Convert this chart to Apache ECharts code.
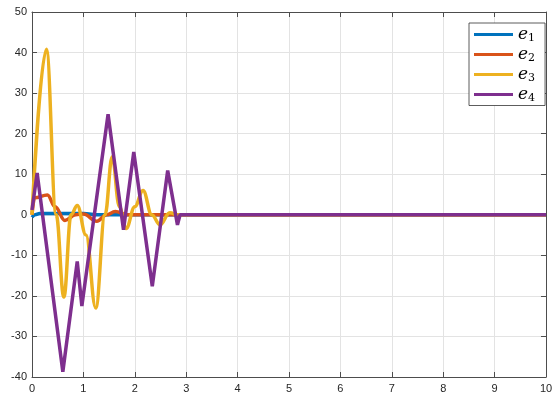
<!DOCTYPE html>
<html>
<head>
<meta charset="utf-8">
<script src="https://cdn.jsdelivr.net/npm/echarts@6/dist/echarts.min.js"></script>
<style>
  html, body { margin: 0; padding: 0; background: #fff; }
  #chart { width: 552px; height: 397px; }
</style>
</head>
<body>
<div id="chart"></div>
<script>
// e1 .. e4 (t, value)
var e1T = [0, 0.06, 0.15, 1.0, 1.3, 10];
var e1V = [-0.6, 0, 0.3, 0.3, 0, 0];

var e2T = [0, 0.05, 0.3, 0.45, 0.64, 0.85, 1.0, 1.26, 1.45, 1.62, 1.85, 2.1, 10];
var e2V = [0, 4.2, 4.9, 2, -1.4, 0, 0.2, -1.6, 0, 0.8, 0, 0, 0];

var e3T = [0, 0.28, 0.47, 0.62, 0.76, 0.88, 1.05, 1.24, 1.42, 1.56, 1.7, 1.83, 2.0, 2.16, 2.33, 2.49, 2.68, 2.85, 3, 10];
var e3V = [0, 40.8, 0, -20.3, 0, 2.3, -5, -23, 0, 14.3, 2, -3.4, 2, 6, 0, -2.5, 0.5, 0, 0, 0];

var e4T = [0, 0.1, 0.6, 0.88, 0.97, 1.48, 1.78, 1.98, 2.34, 2.64, 2.83, 2.88, 10];
var e4V = [1.2, 10.3, -38.7, -11.5, -22.5, 24.8, -3.7, 15.5, -17.6, 10.9, -2.5, 0, 0];

var names = ['e1', 'e2', 'e3', 'e4'];
var colors = ['#0072BD', '#D95319', '#EDB120', '#7E2F8E'];

function pairs(t, v) {
  var out = [];
  for (var i = 0; i < t.length; i++) out.push([t[i], v[i]]);
  return out;
}

var chart = echarts.init(document.getElementById('chart'));

var axisCol = '#4d4d4d';
var lbl = { color: '#262626', fontSize: 11, fontFamily: 'Liberation Sans, Arial, sans-serif' };

function mkSeries(name, t, v, smooth, color) {
  return {
    name: name,
    type: 'line',
    xAxisIndex: 0,
    yAxisIndex: 0,
    data: pairs(t, v),
    smooth: smooth,
    smoothMonotone: smooth ? 'x' : undefined,
    showSymbol: false,
    symbol: 'none',
    lineStyle: { width: 3.5, color: color },
    itemStyle: { color: color }
  };
}

// top / right edges of the box, ticks only
function box(pos) {
  return {
    type: 'value',
    position: pos,
    axisLine: { show: true, onZero: false, lineStyle: { color: axisCol, width: 1 } },
    axisTick: { show: true, inside: true, length: 5, lineStyle: { color: axisCol } },
    axisLabel: { show: false },
    splitLine: { show: false }
  };
}

var xTop = box('top');
xTop.min = 0; xTop.max = 10; xTop.interval = 1;
var yRight = box('right');
yRight.min = -40; yRight.max = 50; yRight.interval = 10;

var option = {
  animation: false,
  color: colors,
  grid: { left: 32, right: 6, top: 12, bottom: 20, outerBoundsMode: 'none', containLabel: false },
  xAxis: [{
    type: 'value', min: 0, max: 10, interval: 1, position: 'bottom',
    axisLine: { show: true, onZero: false, lineStyle: { color: axisCol, width: 1 } },
    axisTick: { show: true, inside: true, length: 5, lineStyle: { color: axisCol } },
    axisLabel: Object.assign({ margin: 6 }, lbl),
    splitLine: { show: true, lineStyle: { color: '#e3e3e3', width: 1 } }
  }, xTop],
  yAxis: [{
    type: 'value', min: -40, max: 50, interval: 10, position: 'left',
    axisLine: { show: true, onZero: false, lineStyle: { color: axisCol, width: 1 } },
    axisTick: { show: true, inside: true, length: 5, lineStyle: { color: axisCol } },
    axisLabel: Object.assign({ margin: 5 }, lbl),
    splitLine: { show: true, lineStyle: { color: '#e3e3e3', width: 1 } }
  }, yRight],
  legend: {
    orient: 'vertical',
    left: 469, top: 23,
    icon: 'rect',
    itemWidth: 39, itemHeight: 3,
    itemGap: 2.5,
    padding: [3, 10, 2, 5],
    backgroundColor: '#fff',
    borderColor: '#333',
    borderWidth: 0.8,
    data: names,
    formatter: function (n) { return '{e|e}{s|' + n.slice(1) + '}'; },
    textStyle: {
      rich: {
        e: { fontFamily: 'DejaVu Serif, serif', fontStyle: 'italic', fontSize: 17, color: '#000' },
        s: { fontFamily: 'DejaVu Serif, serif', fontSize: 11, color: '#000', padding: [7, 0, 0, 0] }
      }
    }
  },
  series: [
    mkSeries('e1', e1T, e1V, 0.4, colors[0]),
    mkSeries('e2', e2T, e2V, 0.4, colors[1]),
    mkSeries('e3', e3T, e3V, 0.4, colors[2]),
    mkSeries('e4', e4T, e4V, false, colors[3])
  ]
};

chart.setOption(option);
</script>
</body>
</html>
